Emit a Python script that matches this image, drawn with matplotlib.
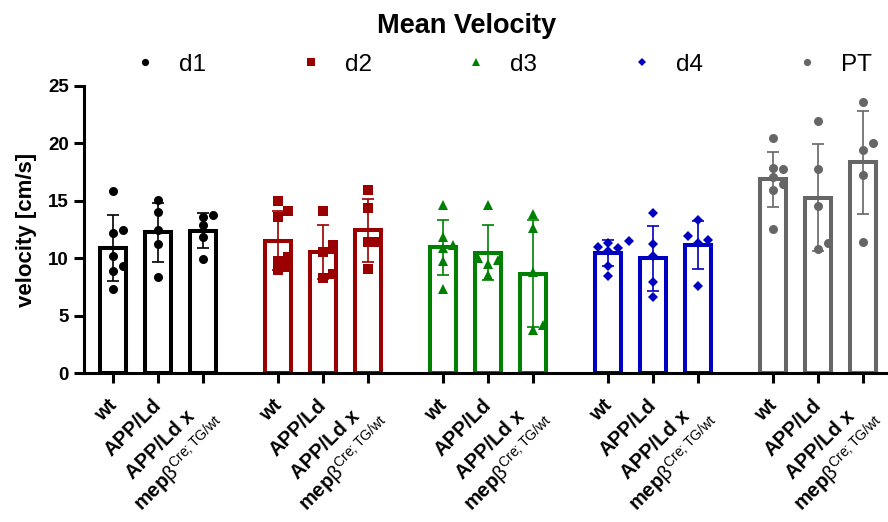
import matplotlib.pyplot as plt
from matplotlib.lines import Line2D
from matplotlib.transforms import ScaledTranslation
import numpy as np

plt.rcParams['font.family'] = ['Liberation Sans', 'DejaVu Sans']
plt.rcParams['mathtext.fontset'] = 'custom'
plt.rcParams['mathtext.rm'] = 'Liberation Sans'
plt.rcParams['mathtext.it'] = 'Liberation Sans:italic'
plt.rcParams['mathtext.bf'] = 'Liberation Sans:bold'

days = ['d1', 'd2', 'd3', 'd4', 'PT']
genotypes = ['wt', 'APP/Ld', 'APP/Ld x\nmep$\\mathrm{\\beta}^{\\mathrm{Cre;TG/wt}}$']
colors = ['#000000', '#9a0000', '#008000', '#0000c0', '#666666']
markers = ['o', 's', '^', 'D', 'o']
msizes = [6.5, 6.5, 7, 5.5, 6.5]

# mean velocity per animal [cm/s]; one list per genotype (wt, APP/Ld, APP/Ld x mepb)
d1 = [[7.3, 8.9, 9.35, 10.2, 12.2, 12.45, 15.85],
      [8.4, 11.26, 12.45, 14.0, 15.1],
      [9.96, 11.87, 12.86, 13.56, 13.8]]
d2 = [[9.0, 9.2, 9.76, 10.13, 13.56, 14.14, 14.98],
      [8.28, 8.6, 10.57, 11.15, 14.14],
      [9.08, 11.38, 11.38, 14.35, 15.97]]
d3 = [[7.3, 9.79, 10.86, 11.15, 11.87, 14.63],
      [8.5, 9.5, 9.8, 10.0, 14.6],
      [3.75, 4.18, 8.8, 12.6, 13.85]]
d4 = [[8.48, 9.3, 10.6, 10.86, 10.95, 11.3, 11.53],
      [6.65, 7.95, 10.2, 11.24, 13.9],
      [7.6, 11.3, 11.6, 11.93, 13.3]]
pt = [[12.54, 15.9, 16.5, 17.1, 17.73, 17.9, 20.44],
      [10.77, 11.3, 14.55, 17.73, 21.95],
      [11.44, 17.25, 19.4, 20.0, 23.63]]
data = [d1, d2, d3, d4, pt]


def swarm(vals, step=0.23, xpx=45.0, ypx=11.48, mind=8.0):
    # simple beeswarm: shift a point sideways if it would overlap an earlier one
    offs = []
    for i, v in enumerate(vals):
        for o in [0, step, -step, 2 * step, -2 * step]:
            if all(np.hypot((o - offs[j]) * xpx, (v - vals[j]) * ypx) >= mind for j in range(i)):
                break
        offs.append(o)
    return np.array(offs)


fig = plt.figure(figsize=(8.88, 5.22), dpi=100)
ax = fig.add_axes([84 / 888, 1 - 373 / 522, 1 - 84 / 888, (373 - 86) / 522])

ticks = []
labels = []
for g, day in enumerate(data):
    c = colors[g]
    for i, vals in enumerate(day):
        x = g * (3 + 2 / 3) + i
        vals = np.array(vals)
        m = vals.mean()
        sd = vals.std(ddof=1)
        ax.bar(x, m, width=0.56, color='white', edgecolor=c, linewidth=2.9, zorder=2)
        ax.errorbar(x, m, yerr=sd, fmt='none', ecolor=c, elinewidth=1.2,
                    capsize=4, capthick=1.2, zorder=3)
        ax.plot(x + swarm(list(vals)), vals, linestyle='none', marker=markers[g],
                markersize=msizes[g], color=c, markeredgewidth=0, zorder=4)
        ticks.append(x)
        labels.append(genotypes[i])

ax.set_xlim(-0.644, 17.22)
ax.set_ylim(0, 25)
ax.set_yticks([0, 5, 10, 15, 20, 25])
ax.set_xticks(ticks)
ax.tick_params(axis='both', width=2.2, length=7, pad=4)
ax.tick_params(axis='x', pad=9)
ax.set_xticklabels(labels, rotation=45, ha='right', va='top',
                   rotation_mode='anchor', multialignment='center',
                   fontsize=14.5, fontweight='bold')
# nudge the rotated labels a little to the left
shift = ScaledTranslation(-6 / 100, 0, fig.dpi_scale_trans)
for t in ax.get_xticklabels():
    t.set_transform(t.get_transform() + shift)
for t in ax.get_yticklabels():
    t.set_fontweight('bold')
    t.set_fontsize(13.5)
for s in ['top', 'right']:
    ax.spines[s].set_visible(False)
for s in ['left', 'bottom']:
    ax.spines[s].set_linewidth(2.2)
ax.set_ylabel('velocity [cm/s]', fontsize=16, fontweight='bold', labelpad=8)

fig.text(467 / 888, 1 - 33 / 522, 'Mean Velocity', ha='center', va='baseline',
         fontsize=19.5, fontweight='bold')

handles = [Line2D([], [], linestyle='none', marker=markers[k], color=colors[k],
                  markersize=msizes[k] * 0.8, markeredgewidth=0) for k in range(5)]
fig.legend(handles, days, loc='center', bbox_to_anchor=(0.559, 1 - 65 / 522), ncol=5,
           frameon=False, fontsize=17.5, handletextpad=0.4, columnspacing=3.3,
           borderpad=0, borderaxespad=0)

plt.savefig('out.png')
